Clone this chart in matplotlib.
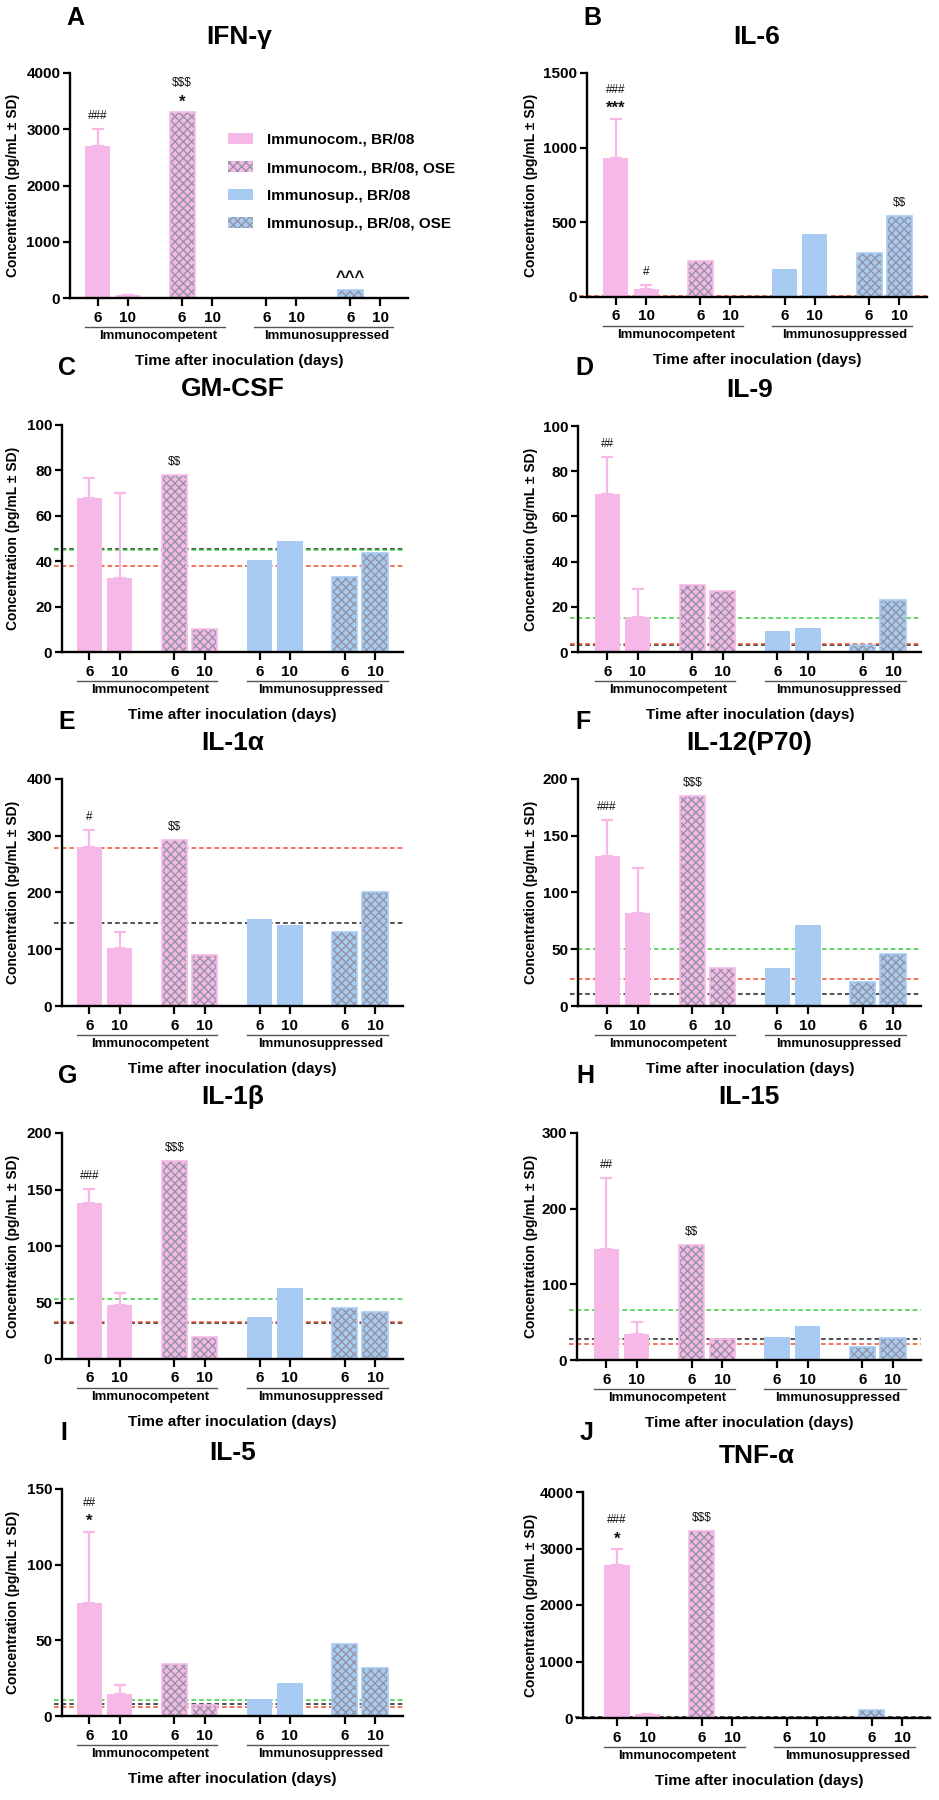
import matplotlib
matplotlib.use('Agg')
import matplotlib.pyplot as plt
import numpy as np
from matplotlib.patches import Patch
from matplotlib.transforms import blended_transform_factory as btf

plt.rcParams['font.family'] = ['Liberation Sans', 'DejaVu Sans']
plt.rcParams['font.weight'] = 'bold'
plt.rcParams['axes.labelweight'] = 'bold'
plt.rcParams['hatch.linewidth'] = 1.0

# ---------------- data ----------------
cytokines = ['IFN-γ', 'IL-6', 'GM-CSF', 'IL-9', 'IL-1α', 'IL-12(P70)', 'IL-1β', 'IL-15', 'IL-5', 'TNF-α']
letters = ['A', 'B', 'C', 'D', 'E', 'F', 'G', 'H', 'I', 'J']
day_labels = ['6', '10']
group_labels = ['Immunocompetent', 'Immunosuppressed']
series_labels = ['Immunocom., BR/08', 'Immunocom., BR/08, OSE',
                 'Immunosup., BR/08', 'Immunosup., BR/08, OSE']
xlabel_text = 'Time after inoculation (days)'
ylabel_text = 'Concentration (pg/mL ± SD)'

# bar order: competent BR/08 d6,d10 | competent OSE d6,d10 | suppressed BR/08 d6,d10 | suppressed OSE d6,d10
ifng_mean = [2700, 50, 3300, 0, 0, 0, 140, 0]
ifng_sd = [300, 0]
il6_mean = [930, 55, 240, 0, 190, 425, 295, 540]
il6_sd = [265, 25]
gmcsf_mean = [68, 32.6, 78, 10.3, 40.6, 49, 33, 43.5]
gmcsf_sd = [8.7, 37.6]
il9_mean = [70, 15.4, 29.6, 27.1, 9.1, 10.7, 3.2, 23.1]
il9_sd = [16.4, 12.5]
il1a_mean = [280, 102.5, 292, 89, 152.6, 142.6, 129.6, 201.5]
il1a_sd = [30, 27.5]
il12_mean = [132.5, 82.2, 184.7, 33.9, 33.6, 71.6, 21.2, 46]
il12_sd = [31.5, 39]
il1b_mean = [138, 47.4, 175.6, 19.7, 37.4, 62.4, 45, 41.8]
il1b_sd = [12.6, 10.8]
il15_mean = [146.5, 34, 152.6, 27.8, 30.4, 45, 17.6, 28.7]
il15_sd = [94, 16]
il5_mean = [75, 14.8, 34.4, 7.3, 11, 22, 47.4, 31.8]
il5_sd = [46.8, 5.7]
tnfa_mean = [2700, 65, 3310, 0, 0, 0, 136, 0]
tnfa_sd = [295, 0]

means = [ifng_mean, il6_mean, gmcsf_mean, il9_mean, il1a_mean,
         il12_mean, il1b_mean, il15_mean, il5_mean, tnfa_mean]
sds = [ifng_sd, il6_sd, gmcsf_sd, il9_sd, il1a_sd,
       il12_sd, il1b_sd, il15_sd, il5_sd, tnfa_sd]

y_max = [4000, 1500, 100, 100, 400, 200, 200, 300, 150, 4000]
y_step = [1000, 500, 20, 20, 100, 50, 50, 100, 50, 1000]

# reference (dashed) levels
lod_green = [None, None, 45, 15, None, 50, 53.2, 66.6, 10.6, None]
lod_red = [None, 5, 38, 3.5, 279, 23.9, 32.6, 21.2, 6.2, None]
lod_black = [None, 3, 45.5, 3, 147, 10.3, 31.8, 27.3, 7.9, 15]

# significance marks: (bar index, symbols from bottom to top)
ifng_marks = [(0, ['###']), (2, ['*', '$$$']), (6, ['^^^'])]
il6_marks = [(0, ['***', '###']), (1, ['#']), (7, ['$$'])]
gmcsf_marks = [(2, ['$$'])]
il9_marks = [(0, ['##'])]
il1a_marks = [(0, ['#']), (2, ['$$'])]
il12_marks = [(0, ['###']), (2, ['$$$'])]
il1b_marks = [(0, ['###']), (2, ['$$$'])]
il15_marks = [(0, ['##']), (2, ['$$'])]
il5_marks = [(0, ['*', '##'])]
tnfa_marks = [(0, ['*', '###']), (2, ['$$$'])]
marks = [ifng_marks, il6_marks, gmcsf_marks, il9_marks, il1a_marks,
         il12_marks, il1b_marks, il15_marks, il5_marks, tnfa_marks]

# ---------------- style / layout ----------------
PINK = '#F6B9E7'
BLUE = '#A7CBF2'
HATCH_C = '#9494A4'
GREEN_L = '#3CCB3C'
RED_L = '#F0502E'
BLACK_L = '#222222'
GREY_LINE = '#555555'
series_colors = [PINK, PINK, BLUE, BLUE]
series_hatched = [False, True, False, True]

W, H = 939, 1800
boxes = [(70, 73, 408, 298), (587, 73, 927, 297),
         (62, 425, 403, 652), (578, 426, 921, 652),
         (62, 779, 403, 1006), (578, 779, 921, 1006),
         (62, 1133, 403, 1359), (577, 1133, 921, 1360),
         (62, 1489, 403, 1716), (583, 1492, 930, 1718)]
xlim_left = [-0.93, -0.96, -0.9, -0.96, -0.9, -0.96, -0.9, -0.96, -0.9, -1.12]
letter_pos = [(75, 18), (592, 18), (67, 368), (584, 368), (67, 722), (583, 722),
              (68, 1076), (585, 1076), (64, 1433), (587, 1433)]

bar_w = 0.83
pair_gap = 2.8
xs = np.array([p * pair_gap + d for p in range(4) for d in range(2)])

fig = plt.figure(figsize=(W / 100, H / 100), dpi=100)

for i in range(10):
    l, t, r, b = boxes[i]
    ax = fig.add_axes([l / W, 1 - b / H, (r - l) / W, (b - t) / H])
    hpx = b - t
    mean = np.array(means[i], dtype=float)

    # reference lines (behind bars)
    for lv, col in ((lod_black[i], BLACK_L), (lod_green[i], GREEN_L), (lod_red[i], RED_L)):
        if lv is not None:
            ax.plot([xlim_left[i] - 0.25, 10.32], [lv, lv], color=col, lw=1.1,
                    ls=(0, (3, 2)), zorder=0.5, clip_on=False)

    for k in range(4):
        sl = slice(2 * k, 2 * k + 2)
        if series_hatched[k]:
            ax.bar(xs[sl], mean[sl], bar_w, color=series_colors[k], edgecolor=HATCH_C,
                   hatch='xxxx', linewidth=0, zorder=1)
            ax.bar(xs[sl], mean[sl], bar_w, fill=False, edgecolor=series_colors[k],
                   linewidth=1.2, zorder=1.1)
        else:
            ax.bar(xs[sl], mean[sl], bar_w, color=series_colors[k], linewidth=0, zorder=1)

    sd = np.array(sds[i], dtype=float)
    ax.errorbar(xs[:2], mean[:2], yerr=[np.zeros(2), sd], fmt='none', ecolor=PINK,
                elinewidth=1.6, capsize=4.5, capthick=1.6, zorder=3)

    tops = mean.copy()
    tops[:2] += sd
    for idx, syms in marks[i]:
        for lev, s in enumerate(syms):
            off = 13 if lev == 0 else 29
            if s.startswith('*'):
                fs, fw, off = 12, 'bold', off - 3
            elif s.startswith('^'):
                fs, fw = 12, 'bold'
            else:
                fs, fw = 8.5, 'normal'
            ax.annotate(s, xy=(xs[idx], tops[idx]), xytext=(0, off),
                        textcoords='offset pixels', ha='center', va='center',
                        fontsize=fs, fontweight=fw, color='#111111',
                        annotation_clip=False, parse_math=False)

    ax.set_xlim(xlim_left[i], 10.32)
    ax.set_ylim(0, y_max[i])
    ax.set_yticks(np.arange(0, y_max[i] + y_step[i] / 2, y_step[i]))
    ax.set_xticks(xs)
    ax.set_xticklabels(day_labels * 4)
    for sp in ('top', 'right'):
        ax.spines[sp].set_visible(False)
    for sp in ('left', 'bottom'):
        ax.spines[sp].set_linewidth(1.7)
        ax.spines[sp].set_zorder(4)
    ax.tick_params(axis='x', length=6, width=1.6, labelsize=11, pad=3)
    ax.tick_params(axis='y', length=5, width=1.6, labelsize=11, pad=2)

    # group annotations under the axis
    tr = btf(ax.transData, ax.transAxes)
    for g in range(2):
        x0 = xs[4 * g] - bar_w / 2
        x1 = xs[4 * g + 3] + bar_w / 2
        ax.plot([x0, x1], [-29 / hpx, -29 / hpx], color=GREY_LINE, lw=1.0,
                transform=tr, clip_on=False)
        ax.text((x0 + x1) / 2 + 0.1, -38 / hpx, group_labels[g], transform=tr,
                ha='center', va='center', fontsize=9.5, fontweight='bold')
    ax.text((xs[0] + xs[-1]) / 2, -63 / hpx, xlabel_text, transform=tr,
            ha='center', va='center', fontsize=11, fontweight='bold')

    ax.set_ylabel(ylabel_text, fontsize=10, fontweight='bold')
    lab_x = 20 if i % 2 == 0 else 538
    ax.yaxis.set_label_coords(lab_x / W, 0.5, transform=btf(fig.transFigure, ax.transAxes))

    ax.text(0.5, 1 + 36 / hpx, cytokines[i], transform=ax.transAxes,
            ha='center', va='center', fontsize=19, fontweight='bold')
    fig.text(letter_pos[i][0] / W, 1 - letter_pos[i][1] / H, letters[i],
             ha='center', va='center', fontsize=18, fontweight='bold')

    if i == 0:
        handles = []
        for k in range(4):
            if series_hatched[k]:
                handles.append(Patch(facecolor=series_colors[k], edgecolor=HATCH_C,
                                     hatch='xxxx', linewidth=0))
            else:
                handles.append(Patch(facecolor=series_colors[k], linewidth=0))
        ax.legend(handles, series_labels, loc='upper left',
                  bbox_to_anchor=(228 / W, 1 - 133 / H), bbox_transform=fig.transFigure,
                  frameon=False, fontsize=11, handlelength=1.65, handleheight=0.7,
                  handletextpad=0.9, labelspacing=0.92, borderpad=0, borderaxespad=0)

fig.savefig('out.png', dpi=100, facecolor='white')
